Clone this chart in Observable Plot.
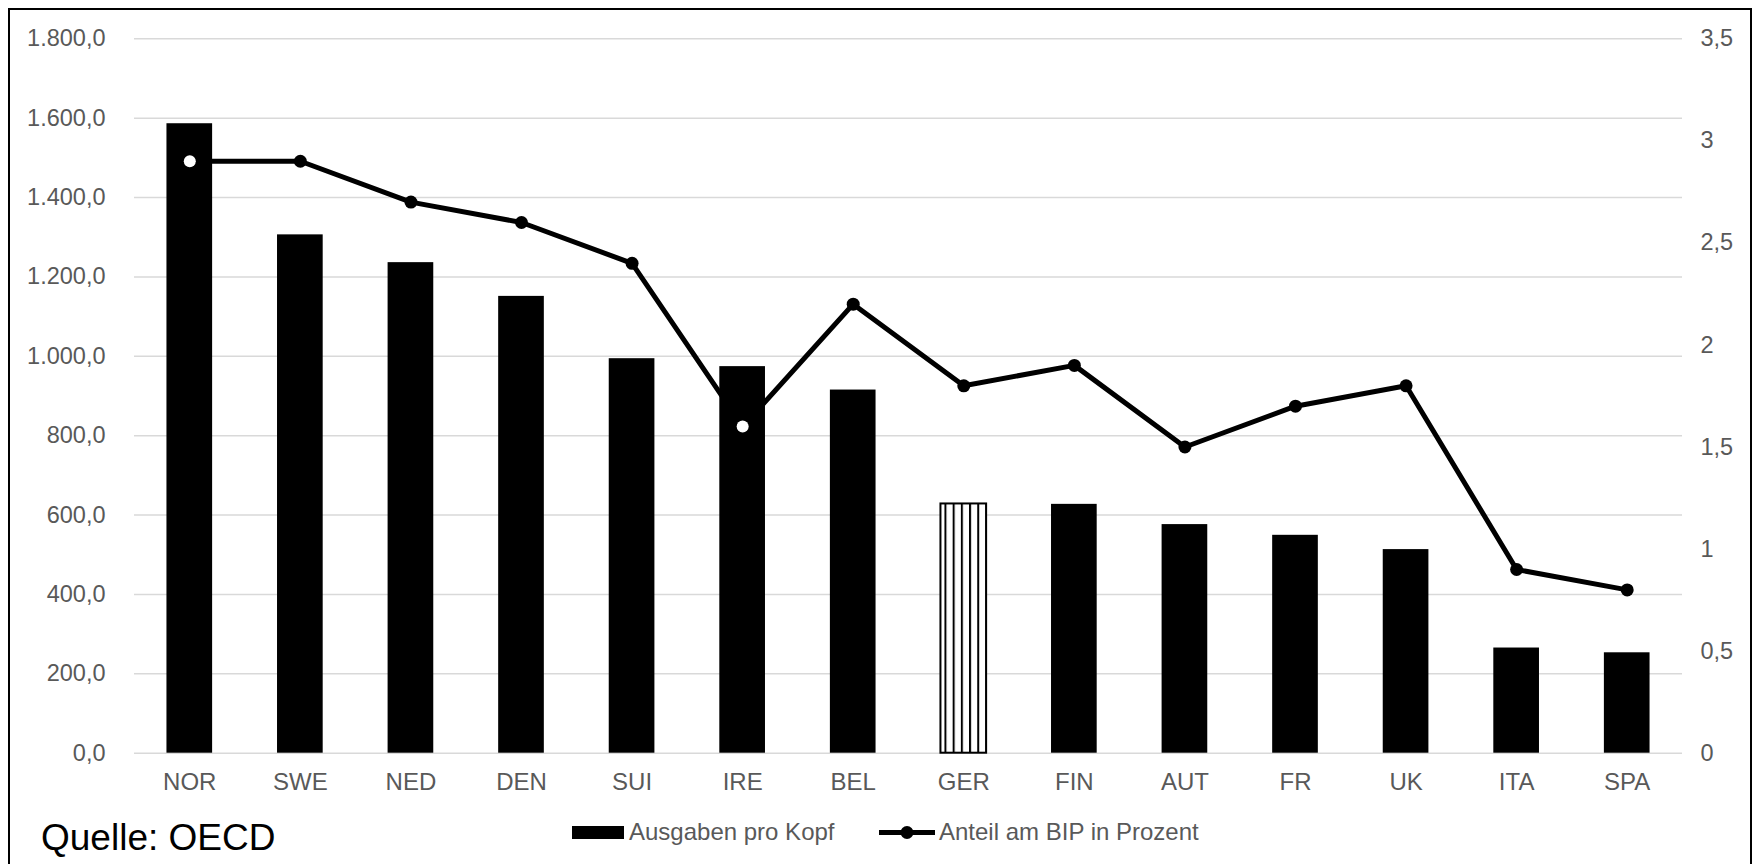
<!DOCTYPE html>
<html>
<head>
<meta charset="utf-8">
<script src="https://cdn.jsdelivr.net/npm/d3@7"></script>
<script src="https://cdn.jsdelivr.net/npm/@observablehq/plot@0.6"></script>
<style>
  html, body { margin: 0; padding: 0; background: #ffffff; }
  body { width: 1756px; height: 864px; position: relative; overflow: hidden; font-family: Arial, "Liberation Sans", sans-serif; }
  #frame { position: absolute; left: 8px; top: 8px; width: 1744px; height: 900px; border: 2px solid #000; box-sizing: border-box; }
  #chart { position: absolute; left: 0; top: 0; }
  .leg { position: absolute; font-size: 24px; line-height: 26px; color: #595959; white-space: nowrap; }
  #caption { position: absolute; left: 41px; top: 818px; font-size: 37px; line-height: 40px; color: #000; white-space: nowrap; }
  #chart svg g[aria-label="x-axis tick label"], #chart svg g[aria-label="x-axis"] { font-size: 24px; }
</style>
</head>
<body>
<div id="frame"></div>
<div id="chart"></div>
<svg id="legsym" width="1756" height="864" style="position:absolute;left:0;top:0;pointer-events:none">
  <rect x="572" y="826" width="52" height="13" fill="#000"></rect>
  <line x1="879" x2="935" y1="832.5" y2="832.5" stroke="#000" stroke-width="5"></line>
  <circle cx="907" cy="832.5" r="6.5" fill="#000"></circle>
</svg>
<div class="leg" style="left:629px;top:819px">Ausgaben pro Kopf</div>
<div class="leg" style="left:939px;top:819px">Anteil am BIP in Prozent</div>
<div id="caption">Quelle: OECD</div>
<script>
// ---- data ----
const categories = ["NOR", "SWE", "NED", "DEN", "SUI", "IRE", "BEL", "GER", "FIN", "AUT", "FR", "UK", "ITA", "SPA"];
const perCapita = [1586, 1306, 1236, 1151, 994, 974, 915, 628, 627, 576, 549, 513, 265, 253];
const gdpShare = [2.9, 2.9, 2.7, 2.6, 2.4, 1.6, 2.2, 1.8, 1.9, 1.5, 1.7, 1.8, 0.9, 0.8];
const leftTicks = [0, 200, 400, 600, 800, 1000, 1200, 1400, 1600, 1800];
const rightTicks = [0, 0.5, 1, 1.5, 2, 2.5, 3, 3.5];
const highlighted = "GER";

const leftMax = leftTicks[leftTicks.length - 1];
const rightMax = rightTicks[rightTicks.length - 1];
const k = leftMax / rightMax;

const rows = categories.map((c, i) => ({cat: c, v: perCapita[i], s: gdpShare[i]}));
const de = d3.formatLocale({decimal: ",", thousands: ".", grouping: [3], currency: ["", " €"]});
const fmtLeft = de.format(",.1f");
const fmtRight = de.format("~g");
const rightRows = rightTicks.map(t => ({t, label: fmtRight(t)}));

const inside = d => d.s * k < d.v;

const chart = Plot.plot({
  width: 1756,
  height: 800,
  marginLeft: 134,
  marginRight: 74,
  marginTop: 38.3,
  marginBottom: 47.3,
  style: {fontFamily: 'Arial, "Liberation Sans", sans-serif', fontSize: "23.5px", color: "#595959", background: "transparent", overflow: "visible"},
  x: {domain: categories, paddingInner: 0.587, paddingOuter: 0.2935, round: false, label: null, tickSize: 0, tickPadding: 20},
  y: {domain: [0, leftMax], ticks: leftTicks, tickFormat: fmtLeft, label: null, tickSize: 0, tickPadding: 29},
  marks: [
    Plot.ruleY(leftTicks, {stroke: "#d9d9d9", strokeWidth: 1.4}),
    Plot.barY(rows.filter(d => d.cat !== highlighted), {x: "cat", y: "v", fill: "#000"}),
    Plot.barY(rows.filter(d => d.cat === highlighted), {x: "cat", y: "v", fill: "url(#hatch)", stroke: "#000", strokeWidth: 2}),
    Plot.line(rows, {x: "cat", y: d => d.s * k, stroke: "#000", strokeWidth: 5}),
    Plot.dot(rows.filter(d => !inside(d)), {x: "cat", y: d => d.s * k, r: 6.5, fill: "#000"}),
    Plot.dot(rows.filter(inside), {x: "cat", y: d => d.s * k, r: 6, fill: "#fff"}),
    Plot.text(rightRows, {y: d => d.t * k, text: "label", frameAnchor: "right", dx: 18, textAnchor: "start", fill: "#595959", fontSize: 23.5})
  ]
});

// x tick labels slightly larger
chart.querySelectorAll('g[aria-label="x-axis"], g[aria-label="x-axis tick label"]').forEach(g => g.setAttribute("font-size", "24"));

// hatch pattern for the highlighted bar
const ns = "http://www.w3.org/2000/svg";
const defs = document.createElementNS(ns, "defs");
let px = 0;
chart.querySelectorAll("rect").forEach(r => {
  if ((r.getAttribute("fill") || "").startsWith("url(")) px = +r.getAttribute("x");
  else if (r.parentNode && (r.parentNode.getAttribute("fill") || "").startsWith("url(")) px = +r.getAttribute("x");
});
defs.innerHTML = `<pattern id="hatch" patternUnits="userSpaceOnUse" width="8.2" height="20" x="${px + 4}" y="0">
  <rect x="0" y="0" width="8.2" height="20" fill="#fff"></rect>
  <rect x="0" y="0" width="2" height="20" fill="#000"></rect>
</pattern>`;
chart.insertBefore(defs, chart.firstChild);
document.getElementById("chart").appendChild(chart);
</script>
</body>
</html>
